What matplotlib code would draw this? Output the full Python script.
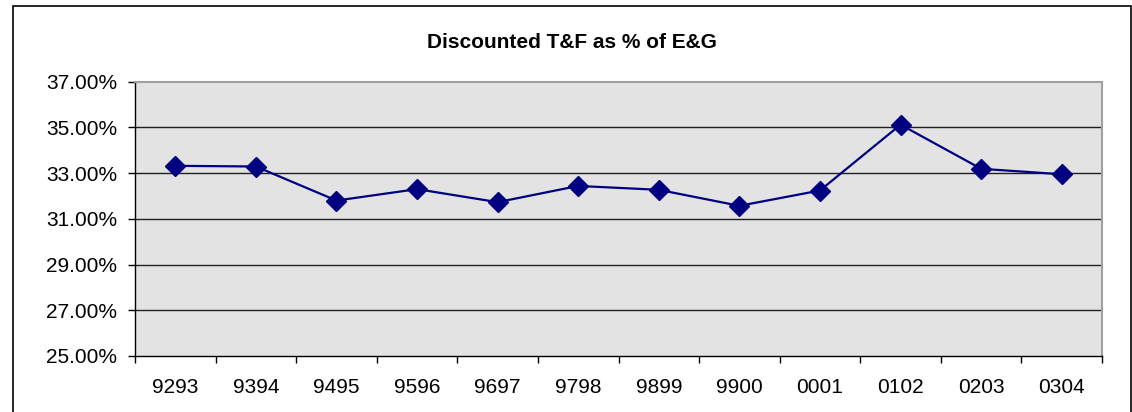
import matplotlib.pyplot as plt
from matplotlib.patches import Rectangle
from matplotlib.ticker import FixedLocator, PercentFormatter

plt.rcParams['font.family'] = ['Liberation Sans', 'DejaVu Sans']

years = ["9293", "9394", "9495", "9596", "9697", "9798",
         "9899", "9900", "0001", "0102", "0203", "0304"]
pct_values = [33.32, 33.29, 31.80, 32.30, 31.73, 32.44,
              32.27, 31.57, 32.24, 35.12, 33.19, 32.95]
y_ticks = [25, 27, 29, 31, 33, 35, 37]


def plot_data(figure_name):
    fig = plt.figure(figsize=(11.32, 4.12), dpi=100)

    # chart area frame (open at the bottom, like the cropped original)
    frame = Rectangle((12.5 / 1132, -0.1), (1131 - 12.5) / 1132, 1.1 - 5.5 / 412,
                      transform=fig.transFigure, fill=False,
                      edgecolor="black", linewidth=1.2)
    fig.patches.append(frame)

    ax = fig.add_axes([135 / 1132, 56 / 412, 967 / 1132, 274.3 / 412])
    ax.set_facecolor("#e3e3e3")

    xs = [i + 0.5 for i in range(len(years))]
    ax.plot(xs, pct_values, color="#000080", linewidth=1.6,
            marker="D", markersize=10.5, markerfacecolor="#000080",
            markeredgecolor="#000080", zorder=3, clip_on=False)

    ax.set_xlim(0, len(years))
    ax.set_ylim(25, 37)
    ax.yaxis.set_major_locator(FixedLocator(y_ticks))
    ax.yaxis.set_major_formatter(PercentFormatter(decimals=2))

    ax.xaxis.set_major_locator(FixedLocator(range(len(years) + 1)))
    ax.xaxis.set_minor_locator(FixedLocator(xs))
    ax.set_xticklabels([], minor=False)
    ax.set_xticklabels(years, minor=True)

    ax.tick_params(axis="x", which="major", direction="out", length=5,
                   width=1, color="black")
    ax.tick_params(axis="x", which="minor", length=0, pad=16, labelsize=15)
    ax.tick_params(axis="y", direction="out", length=5, width=1,
                   color="black", pad=8, labelsize=15)

    for y in y_ticks[1:-1]:
        ax.axhline(y, color="#202020", linewidth=1, zorder=1)

    for side in ["left", "bottom"]:
        ax.spines[side].set_color("black")
        ax.spines[side].set_linewidth(1)
    for side in ["top", "right"]:
        ax.spines[side].set_color("#a0a0a0")
        ax.spines[side].set_linewidth(1.5)

    fig.text(0.505, 1 - 43 / 412, "Discounted T&F as % of E&G",
             ha="center", va="center", fontsize=15, fontweight="bold")

    fig.savefig(figure_name, dpi=100)


if __name__ == "__main__":
    plot_data("out.png")
